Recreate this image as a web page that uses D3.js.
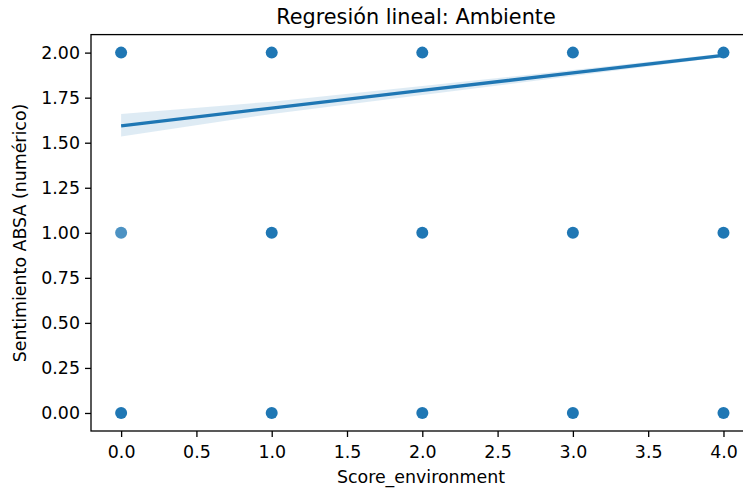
<!DOCTYPE html>
<html lang="es">
<head>
<meta charset="UTF-8">
<title>Regresión lineal: Ambiente</title>
<script src="https://d3js.org/d3.v7.min.js"></script>
<style>
  body { margin: 0; background: #fff; }
  text { font-family: "DejaVu Sans", sans-serif; fill: #000; }
</style>
</head>
<body>
<script>
// scatter points: score, sentiment, approx number of overlapping obs
const scoreVals = [0, 1, 2, 3, 4, 0, 1, 2, 3, 4, 0, 1, 2, 3, 4];
const sentVals  = [2, 2, 2, 2, 2, 1, 1, 1, 1, 1, 0, 0, 0, 0, 0];
const counts    = [5, 5, 5, 5, 5, 1, 4, 4, 4, 4, 4, 4, 4, 4, 4];

// fitted line and confidence band
const fitX  = [0, 1, 2, 3, 4];
const fitY  = [1.594, 1.692, 1.790, 1.887, 1.985];
const ciLow = [1.535, 1.660, 1.765, 1.870, 1.975];
const ciHigh = [1.659, 1.728, 1.815, 1.903, 1.995];

const xTicks = [0, 0.5, 1, 1.5, 2, 2.5, 3, 3.5, 4];
const yTicks = [0, 0.25, 0.5, 0.75, 1, 1.25, 1.5, 1.75, 2];

const W = 743, H = 492;
const color = "#1f77b4";
const fs = 17.4;

const svg = d3.select("body").append("svg")
  .attr("width", W).attr("height", H);

const x = d3.scaleLinear().domain([-0.2, 4.2]).range([91, 753.6]);
const y = d3.scaleLinear().domain([-0.1, 2.1]).range([431, 34.6]);

// points
svg.append("g").selectAll("circle")
  .data(scoreVals.map((s, i) => ({ s, v: sentVals[i], n: counts[i] })))
  .enter().append("circle")
  .attr("cx", d => x(d.s))
  .attr("cy", d => y(d.v))
  .attr("r", 6)
  .attr("fill", color)
  .attr("opacity", d => 1 - Math.pow(0.2, d.n));

// CI band
const band = fitX.map((v, i) => ({ x: v, lo: ciLow[i], hi: ciHigh[i] }));
svg.append("path")
  .datum(band)
  .attr("fill", color)
  .attr("fill-opacity", 0.15)
  .attr("d", d3.area().x(d => x(d.x)).y0(d => y(d.lo)).y1(d => y(d.hi)));

// regression line
svg.append("path")
  .datum(fitX.map((v, i) => [v, fitY[i]]))
  .attr("fill", "none")
  .attr("stroke", color)
  .attr("stroke-width", 3.3)
  .attr("d", d3.line().x(d => x(d[0])).y(d => y(d[1])));

// axes
const xAxis = svg.append("g")
  .attr("transform", "translate(0,431)")
  .call(d3.axisBottom(x).tickValues(xTicks).tickFormat(d3.format(".1f")).tickSizeOuter(0).tickSize(6).tickPadding(8.5));
const yAxis = svg.append("g")
  .attr("transform", "translate(91,0)")
  .call(d3.axisLeft(y).tickValues(yTicks).tickFormat(d3.format(".2f")).tickSizeOuter(0).tickSize(6).tickPadding(5));

[xAxis, yAxis].forEach(a => {
  a.attr("font-size", fs).attr("font-family", "DejaVu Sans");
  a.selectAll("text").attr("font-size", fs);
  a.selectAll("line").attr("stroke", "#000").attr("stroke-width", 1.3);
  a.select(".domain").remove();
});

// spines
svg.append("rect")
  .attr("x", 91).attr("y", 34.6)
  .attr("width", 753.6 - 91).attr("height", 431 - 34.6)
  .attr("fill", "none")
  .attr("stroke", "#000").attr("stroke-width", 1.3);

// labels
svg.append("text")
  .attr("x", 416).attr("y", 24)
  .attr("text-anchor", "middle")
  .attr("font-size", 20.8)
  .text("Regresión lineal: Ambiente");

svg.append("text")
  .attr("x", 421).attr("y", 483)
  .attr("text-anchor", "middle")
  .attr("font-size", fs)
  .text("Score_environment");

svg.append("text")
  .attr("transform", "translate(26,233) rotate(-90)")
  .attr("text-anchor", "middle")
  .attr("font-size", fs)
  .text("Sentimiento ABSA (numérico)");
</script>
</body>
</html>
